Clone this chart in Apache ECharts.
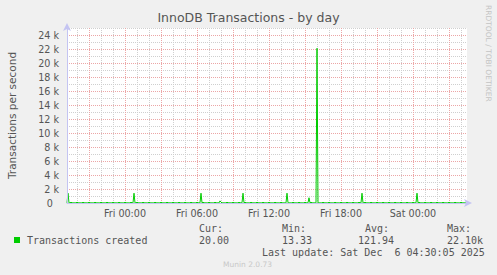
<!DOCTYPE html>
<html><head><meta charset="utf-8">
<script src="https://cdn.jsdelivr.net/npm/echarts@6/dist/echarts.min.js"></script>
<style>html,body{margin:0;padding:0;background:#f0f0f0}#c{width:497px;height:275px}</style>
</head><body><div id="c"></div>
<script>
const chartTitle = 'InnoDB Transactions - by day';
const yAxisName = 'Transactions per second';
const seriesName = 'Transactions created';
const dayNames = ['Thu', 'Fri', 'Sat'];
const firstSampleMinute = 19 * 60 + 10;   // Thu 19:10 (minutes from Thu 00:00)
const stepMinutes = 5;
const xTickLabels = ['Fri 00:00', 'Fri 06:00', 'Fri 12:00', 'Fri 18:00', 'Sat 00:00'];
const yMax = 25000;
const yLabelStep = 2000;
const statLabels = ['Cur:', 'Min:', 'Avg:', 'Max:'];
const statValues = ['20.00', '13.33', '121.94', '22.10k'];
const lastUpdate = 'Last update: Sat Dec  6 04:30:05 2025';
const rrdCredit = 'RRDTOOL / TOBI OETIKER';
const muninVersion = 'Munin 2.0.73';

const transactions = [
 20,1400,13,20,110,33, 20,27,13,20,110,33, 20,27,13,20,110,33, 20,27,13,20,110,33,
 20,27,13,20,110,33, 20,27,13,20,110,33, 20,27,13,20,110,33, 20,27,13,20,110,33,
 20,27,13,20,110,33, 20,27,13,20,110,33, 20,27,13,20,110,33, 20,1400,13,20,110,33,
 20,27,13,20,110,33, 20,27,13,20,110,33, 20,27,13,20,110,33, 20,27,13,20,110,33,
 20,27,13,20,110,33, 20,27,13,20,110,33, 20,27,13,20,110,33, 20,27,13,20,110,33,
 20,27,13,20,110,33, 20,27,13,20,110,33, 20,27,1400,20,110,33, 20,27,13,20,110,33,
 20,27,13,20,110,33, 20,27,13,300,110,33, 20,27,13,20,110,33, 20,27,13,20,110,33,
 20,27,13,20,110,33, 20,27,1400,20,110,33, 20,27,13,20,110,33, 20,27,13,20,110,33,
 20,27,13,20,110,33, 20,27,13,20,110,33, 20,27,13,20,110,33, 20,27,13,20,110,33,
 20,27,13,20,1400,33, 20,27,13,20,110,33, 20,27,13,20,110,33, 20,27,13,20,110,33,
 20,27,750,20,110,33, 20,27,13,20,22100,33, 20,27,13,20,110,33, 20,27,13,20,110,33,
 20,27,13,20,110,33, 20,27,13,20,110,33, 20,27,13,20,110,33, 20,27,13,20,110,33,
 20,27,13,20,110,33, 20,1400,13,20,110,33, 20,27,13,20,110,33, 20,27,13,20,110,33,
 20,27,13,20,110,33, 20,27,13,20,110,33, 20,27,13,20,110,33, 20,27,13,20,110,33,
 20,27,13,20,110,33, 20,27,13,20,110,33, 20,27,1400,20,110,33, 20,27,13,20,110,33,
 20,27,13,20,110,33, 20,27,13,20,110,33, 20,27,13,20,110,33, 20,27,13,20,110,33,
 20,27,13,20,110,33, 20,27,13,20,110,33, 20,27,13,20,20
];

function pad(n) { return (n < 10 ? '0' : '') + n; }
function minuteLabel(m) {
  return dayNames[Math.floor(m / 1440)] + ' ' + pad(Math.floor((m % 1440) / 60)) + ':' + pad(m % 60);
}
const lastMinute = firstSampleMinute + (transactions.length - 1) * stepMinutes;   // Sat 04:30
const seriesData = transactions.map((v, i) => [firstSampleMinute + i * stepMinutes, v]);

// pixel layout (1 px per 5 minutes, 7 px per 1000)
const plotLeft = 67, plotTop = 28, plotH = 175;
const pxPerMin = 1 / stepMinutes;
const pxPerUnit = plotH / yMax;
const gridStep = 180;                              // 3 h between lines of one set
const minorA = [19 * 60, 19 * 60 + 12 * gridStep]; // 19:00, 22:00, 01:00 ...
const minorB = [20 * 60, 20 * 60 + 11 * gridStep]; // 20:00, 23:00, 02:00 ...
const major = [18 * 60, 18 * 60 + 12 * gridStep];  // 18:00, 21:00, 00:00 ...

function gridSpan(x0, x1, y0, y1, extra) {
  return Object.assign({ containLabel: false, outerBoundsMode: 'none', show: false,
    left: plotLeft + (x0 - firstSampleMinute) * pxPerMin, width: (x1 - x0) * pxPerMin,
    top: plotTop + (yMax - y1) * pxPerUnit, height: (y1 - y0) * pxPerUnit }, extra || {});
}

const axisBlue = '#c4c4f2';
const minorLine = { color: '#cfcfcf', width: 1, type: [1, 1] };
const majorLine = { color: '#eca6a6', width: 1, type: [1, 1] };
const txt = '#555';
const sans = 'DejaVu Sans';
const mono = '10px "DejaVu Sans Mono"';
const noAxis = { axisLine: { show: false }, axisTick: { show: false }, axisLabel: { show: false }, splitLine: { show: false } };
const hiddenY = (g, a, b) => Object.assign({}, noAxis, { type: 'value', gridIndex: g, min: a, max: b });
const hiddenX = (g, a, b) => Object.assign({}, noAxis, { type: 'value', gridIndex: g, min: a, max: b });
const splitX = (g, r, showMin) => Object.assign({}, noAxis, { type: 'value', gridIndex: g, min: r[0], max: r[1], interval: gridStep,
  splitLine: { show: true, showMinLine: showMin, showMaxLine: false, lineStyle: Object.assign({}, r === major ? majorLine : minorLine) } });

const chart = echarts.init(document.getElementById('c'), null, { renderer: 'svg' });
chart.setOption({
  animation: false,
  backgroundColor: '#f0f0f0',
  grid: [
    gridSpan(firstSampleMinute, lastMinute, 0, yMax, { show: true, backgroundColor: '#ffffff', borderWidth: 0, z: -1 }), // 0
    gridSpan(minorA[0], minorA[1], 0, yMax),        // 1 gray verticals A
    gridSpan(minorB[0], minorB[1], 0, yMax),        // 2 gray verticals B
    gridSpan(major[0], major[1], 0, yMax),          // 3 red verticals + data
    gridSpan(major[0], major[1], 0, yMax),          // 4 time labels
    gridSpan(firstSampleMinute, lastMinute, -1000, yMax),          // 5 gray horizontals
    gridSpan(firstSampleMinute, lastMinute, 0, yMax + 1000)        // 6 red horizontals
  ],
  xAxis: [
    Object.assign({}, noAxis, { type: 'value', gridIndex: 0, min: firstSampleMinute, max: lastMinute, z: 6,
      axisLine: { show: true, onZero: false, lineStyle: { color: axisBlue, width: 1 }, symbol: ['none', 'arrow'], symbolSize: [6, 8], symbolOffset: [0, 5] } }),
    splitX(1, minorA, false),
    splitX(2, minorB, true),
    splitX(3, major, false),
    Object.assign({}, noAxis, { type: 'value', gridIndex: 4, min: major[0], max: major[1], interval: gridStep,
      axisLabel: { show: true, margin: 5, color: txt, fontFamily: sans, fontSize: 9.6, hideOverlap: false,
        formatter: (v) => { const s = minuteLabel(v); return xTickLabels.indexOf(s) >= 0 ? s : ''; } } }),
    hiddenX(5, firstSampleMinute, lastMinute),
    hiddenX(6, firstSampleMinute, lastMinute)
  ],
  yAxis: [
    Object.assign({}, noAxis, { type: 'value', gridIndex: 0, min: 0, max: yMax, interval: yLabelStep, z: 6,
      name: yAxisName, nameLocation: 'middle', nameGap: 50,
      nameTextStyle: { color: txt, fontFamily: sans, fontSize: 10.5 },
      axisLine: { show: true, onZero: false, lineStyle: { color: axisBlue, width: 1 }, symbol: ['none', 'arrow'], symbolSize: [6, 8], symbolOffset: [0, 5] },
      axisLabel: { show: true, margin: 8, color: txt, fontFamily: sans, fontSize: 9.6,
        formatter: (v) => (v % yLabelStep !== 0 ? '' : (v === 0 ? '0  ' : (v / 1000) + ' k')) } }),
    hiddenY(1, 0, yMax), hiddenY(2, 0, yMax), hiddenY(3, 0, yMax), hiddenY(4, 0, yMax),
    Object.assign({}, noAxis, { type: 'value', gridIndex: 5, min: -1000, max: yMax, interval: yLabelStep,
      splitLine: { show: true, showMinLine: false, showMaxLine: true, lineStyle: Object.assign({}, minorLine) } }),
    Object.assign({}, noAxis, { type: 'value', gridIndex: 6, min: 0, max: yMax + 1000, interval: yLabelStep,
      splitLine: { show: true, showMinLine: false, showMaxLine: false, lineStyle: Object.assign({}, majorLine) } })
  ],
  series: [{
    name: seriesName, type: 'line', xAxisIndex: 3, yAxisIndex: 3,
    data: seriesData, showSymbol: false, symbol: 'none',
    lineStyle: { color: '#00cc00', width: 1 }, itemStyle: { color: '#00cc00' }, z: 4
  }],
  graphic: [
    { type: 'text', left: 'center', top: 11, style: { text: chartTitle, fill: txt, font: '12.5px "DejaVu Sans"' } },
    { type: 'text', x: 484, y: 5, rotation: -Math.PI / 2, style: { text: rrdCredit, fill: '#c4c4c4', font: '7.5px "DejaVu Sans"', textAlign: 'left', textVerticalAlign: 'bottom' } },
    { type: 'rect', shape: { x: 14, y: 237, width: 6, height: 6 }, style: { fill: '#00cc00' } },
    { type: 'text', x: 27, y: 240, style: { text: seriesName, fill: txt, font: mono, textVerticalAlign: 'middle' } },
    { type: 'text', x: 199, y: 228, style: { text: statLabels[0], fill: txt, font: mono, textVerticalAlign: 'middle' } },
    { type: 'text', x: 199, y: 240, style: { text: statValues[0], fill: txt, font: mono, textVerticalAlign: 'middle' } },
    { type: 'text', x: 282, y: 228, style: { text: statLabels[1], fill: txt, font: mono, textVerticalAlign: 'middle' } },
    { type: 'text', x: 282, y: 240, style: { text: statValues[1], fill: txt, font: mono, textVerticalAlign: 'middle' } },
    { type: 'text', x: 365, y: 228, style: { text: statLabels[2], fill: txt, font: mono, textVerticalAlign: 'middle' } },
    { type: 'text', x: 358, y: 240, style: { text: statValues[2], fill: txt, font: mono, textVerticalAlign: 'middle' } },
    { type: 'text', x: 447, y: 228, style: { text: statLabels[3], fill: txt, font: mono, textVerticalAlign: 'middle' } },
    { type: 'text', x: 447, y: 240, style: { text: statValues[3], fill: txt, font: mono, textVerticalAlign: 'middle' } },
    { type: 'text', x: 262, y: 252, style: { text: lastUpdate, fill: txt, font: mono, textVerticalAlign: 'middle' } },
    { type: 'text', x: 223, y: 264, style: { text: muninVersion, fill: '#c8c8c8', font: '7.5px "DejaVu Sans"', textVerticalAlign: 'middle' } }
  ]
});
</script></body></html>
